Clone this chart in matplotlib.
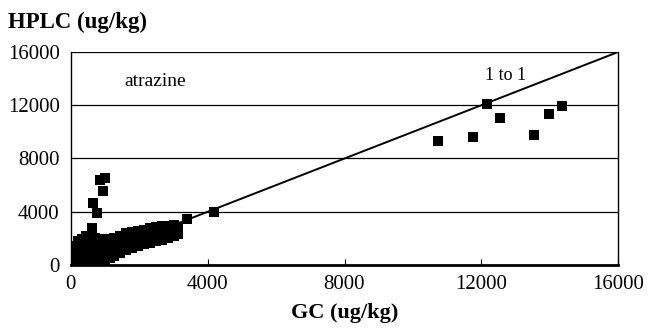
import numpy as np
import matplotlib.pyplot as plt

# GC vs HPLC atrazine concentrations (ug/kg)
# dense cluster near the origin
gc_low = [88, 88, 88, 88,
          205, 205, 205, 205, 205,
          322, 322, 322, 322, 322,
          439, 439, 439, 439, 439, 439,
          556, 556, 556, 556, 556,
          702, 702, 702, 702, 702,
          848, 848, 848, 848, 848,
          995, 995, 995, 995, 995,
          1141, 1141, 1141, 1141,
          1258, 1258, 1258, 1258]
hplc_low = [226, 604, 981, 1434,
            226, 680, 1133, 1586, 1810,
            226, 680, 1133, 1586, 1960,
            226, 680, 1133, 1586, 2040, 2190,
            226, 680, 1133, 1586, 2110,
            226, 680, 1133, 1586, 2040,
            226, 680, 1133, 1586, 1960,
            226, 680, 1133, 1586, 1960,
            530, 980, 1435, 1890,
            680, 1133, 1586, 2040]

# band below the 1:1 line
gc_band = [1433, 1433, 1433, 1433,
           1609, 1609, 1609, 1609,
           1784, 1784, 1784, 1784,
           1960, 1960, 1960, 1960,
           2135, 2135, 2135, 2135,
           2311, 2311, 2311, 2311,
           2486, 2486, 2486, 2486,
           2662, 2662, 2662, 2662,
           2837, 2837, 2837,
           3013, 3013, 3013,
           3130, 3130]
hplc_band = [906, 1359, 1812, 2190,
             1133, 1586, 2040, 2416,
             1284, 1737, 2190, 2490,
             1435, 1888, 2340, 2570,
             1586, 2040, 2490, 2640,
             1660, 2110, 2570, 2790,
             1810, 2265, 2720, 2870,
             1890, 2340, 2800, 2945,
             2040, 2490, 2945,
             2190, 2640, 3020,
             2340, 2800]

# scattered high values
gc_high = [995, 848, 936, 643, 760, 614, 1700, 3393, 4183,
           10735, 11760, 12170, 12550, 13540, 13980, 14360]
hplc_high = [6570, 6415, 5585, 4680, 3924, 2790, 2415, 3472, 4000,
             9283, 9585, 12100, 11020, 9735, 11320, 11920]

gc = gc_low + gc_band + gc_high
hplc = hplc_low + hplc_band + hplc_high

plt.rcParams['font.family'] = ['Liberation Serif', 'DejaVu Serif']

fig = plt.figure(figsize=(6.5, 3.29), dpi=100)
ax = fig.add_axes([0.109, 0.1945, 0.842, 0.6475])

for yv in [4000, 8000, 12000, 16000]:
    ax.axhline(yv, color='black', lw=0.9, zorder=1)

ax.plot([0, 16000], [0, 16000], color='black', lw=1.4, zorder=2)
ax.scatter(gc, hplc, marker='s', s=50, color='black', zorder=3, linewidths=0)

ax.set_xlim(0, 16000)
ax.set_ylim(0, 16000)
ax.set_xticks(np.arange(0, 16001, 4000))
ax.set_yticks(np.arange(0, 16001, 4000))
ax.tick_params(axis='x', direction='in', length=4, labelsize=15, pad=7)
ax.tick_params(axis='y', length=0, labelsize=15, pad=8)

ax.spines['top'].set_visible(False)
ax.spines['bottom'].set_linewidth(2)
ax.spines['left'].set_linewidth(1)
ax.spines['right'].set_linewidth(1)

ax.text(2460, 13800, 'atrazine', fontsize=14, ha='center', va='center')
ax.text(12695, 14200, '1 to 1', fontsize=13, ha='center', va='center')

ax.set_xlabel('GC (ug/kg)', fontsize=16, fontweight='bold', labelpad=7)
fig.text(0.012, 0.915, 'HPLC (ug/kg)', fontsize=16.5, fontweight='bold')

fig.savefig('out.png', dpi=100)
